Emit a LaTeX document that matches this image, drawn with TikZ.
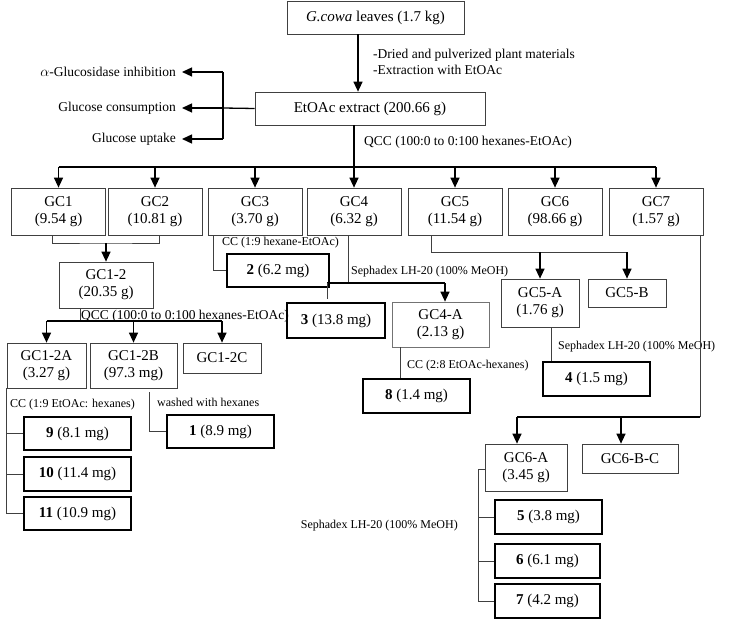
\documentclass[tikz,border=0pt]{standalone}
\usepackage{fontspec}
\setmainfont{Liberation Serif}
\usetikzlibrary{arrows.meta}

\tikzset{
	box/.style={draw=black!75,line width=0.7pt,inner sep=0pt,align=center,font=\fontsize{15}{17}\selectfont},
	cpd/.style={box,draw=black,line width=1.8pt},
	arr/.style={line width=1.3pt,-{Triangle[length=10pt,width=9pt]}},
	link/.style={draw=black!75,line width=0.8pt},
	lbl/.style={inner sep=0pt,font=\fontsize{12}{14}\selectfont},
	lbig/.style={inner sep=0pt,font=\fontsize{13.5}{16}\selectfont},
}

\begin{document}
\begin{tikzpicture}[x=1pt,y=-1pt]
	\useasboundingbox (0,0) rectangle (738,620);
	
	\node[box,minimum width=177pt,minimum height=33pt] (gcowa) at (375.5,17.5) {\textit{G.cowa} leaves (1.7 kg)};
	\node[box,minimum width=230pt,minimum height=33pt] (extract) at (370,108.5) {EtOAc extract (200.66 g)};
	\draw[arr] ([xshift=-17.5pt]gcowa.south) -- ([xshift=-12pt]extract.north);
	\node[lbig,anchor=west,align=left] (dried) at (373,61.5) {-Dried and pulverized plant materials\\-Extraction with EtOAc};
	
	\node[lbig,anchor=east,inner xsep=6pt] (alpha) at (182,72) {$\alpha$-Glucosidase inhibition};
	\node[lbig,anchor=east,inner xsep=6pt] (cons) at (182,108) {Glucose consumption};
	\node[lbig,anchor=east,inner xsep=6pt] (uptake) at (182,139) {Glucose uptake};
	\coordinate (bio) at (223,108);
	\coordinate (biot) at (223,72);
	\coordinate (biob) at (223,139);
	\draw[line width=1.3pt] (extract.west) -- (bio);
	\draw[line width=1.3pt] (biot) -- (biob);
	\draw[arr] (biot) -- (alpha.east);
	\draw[arr] (bio) -- (cons.east);
	\draw[arr] (biob) -- (uptake.east);
	
	\node[lbig,anchor=west] (qcc) at (364,142) {QCC (100:0 to 0:100 hexanes-EtOAc)};
	\node[box,minimum width=94pt,minimum height=47pt] (gc1) at (58.5,211.5) {GC1\\(9.54 g)};
	\node[box,minimum width=94pt,minimum height=47pt] (gc2) at (155,211.5) {GC2\\(10.81 g)};
	\node[box,minimum width=94pt,minimum height=47pt] (gc3) at (255,211.5) {GC3\\(3.70 g)};
	\node[box,minimum width=94pt,minimum height=47pt] (gc4) at (354,211.5) {GC4\\(6.32 g)};
	\node[box,minimum width=94pt,minimum height=47pt] (gc5) at (455,211.5) {GC5\\(11.54 g)};
	\node[box,minimum width=94pt,minimum height=47pt] (gc6) at (555,211.5) {GC6\\(98.66 g)};
	\node[box,minimum width=94pt,minimum height=47pt] (gc7) at (656,211.5) {GC7\\(1.57 g)};
	\coordinate (bus) at (354,167);
	\draw[line width=1.3pt] (extract.south -| bus) -- (bus);
	\draw[line width=1.3pt] (gc1 |- bus) -- (gc7 |- bus);
	\foreach \n in {gc1,gc2,gc3,gc4,gc5,gc6,gc7}
		\draw[arr] (\n |- bus) -- (\n.north);
	
	\node[box,minimum width=94pt,minimum height=46pt] (gc12) at (106,285) {GC1-2\\(20.35 g)};
	\coordinate (j12) at (106,243);
	\draw[link] ([xshift=-6pt]gc1.south) |- (j12) -| ([xshift=4pt]gc2.south);
	\draw[arr] (j12) -- (gc12.north);
	
	\node[box,minimum width=79pt,minimum height=45pt] (gc12a) at (46.5,365.5) {GC1-2A\\(3.27 g)};
	\node[box,minimum width=87pt,minimum height=45pt] (gc12b) at (133.5,365.5) {GC1-2B\\(97.3 mg)};
	\node[box,minimum width=78pt,minimum height=30pt] (gc12c) at (222,358) {GC1-2C};
	\coordinate (bus2) at (80,321);
	\draw[link] (gc12.south -| bus2) -- (bus2);
	\draw[line width=1.3pt] (gc12a |- bus2) -- (gc12c |- bus2);
	\foreach \n in {gc12a,gc12b,gc12c}
		\draw[arr] (\n |- bus2) -- (\n.north);
	\node[lbig,anchor=base west] (qcc2) at (81,319.5) {QCC (100:0 to 0:100 hexanes-EtOAc)};
	
	\node[cpd,minimum width=102pt,minimum height=33pt] (c2) at (278,270.5) {\textbf{2} (6.2 mg)};
	\draw[link] ([xshift=-42pt]gc3.south) |- (c2.west);
	\node[lbl,anchor=west] (cc3) at (222,243) {CC (1:9 hexane-EtOAc)};
	
	\node[cpd,minimum width=98pt,minimum height=35pt] (c3) at (336,320.5) {\textbf{3} (13.8 mg)};
	\node[box,draw=black!55,minimum width=97pt,minimum height=45pt] (gc4a) at (440.5,324.5) {GC4-A\\(2.13 g)};
	\coordinate (j4) at (348,283);
	\coordinate (l3) at (327,283);
	\coordinate (r4) at (445,283);
	\draw[link] (gc4.south -| j4) -- (j4);
	\draw[line width=1.3pt] (l3) -- (r4);
	\draw[link] (l3) -- ([yshift=3pt]l3 |- c3.north);
	\draw[arr] (r4) -- (r4 |- gc4a.north);
	\node[lbl,anchor=west] (seph4) at (351,272) {Sephadex LH-20 (100\% MeOH)};
	
	\node[cpd,minimum width=107pt,minimum height=34pt] (c8) at (416.5,396) {\textbf{8} (1.4 mg)};
	\draw[link] ([xshift=-40.5pt]gc4a.south) -- ([xshift=-40.5pt]gc4a.south |- c8.north);
	\node[lbl,anchor=west] (cc4a) at (407,366) {CC (2:8 EtOAc-hexanes)};
	
	\node[box,minimum width=78pt,minimum height=48pt] (gc5a) at (540,303) {GC5-A\\(1.76 g)};
	\node[box,minimum width=78pt,minimum height=28pt] (gc5b) at (627,293) {GC5-B};
	\coordinate (j5) at (431,252);
	\draw[link] (gc5.south -| j5) -- (j5) -- (gc5b |- j5);
	\draw[arr] (gc5a |- j5) -- (gc5a.north);
	\draw[arr] (gc5b |- j5) -- (gc5b.north);
	
	\node[cpd,minimum width=107pt,minimum height=34pt] (c4) at (596.5,379) {\textbf{4} (1.5 mg)};
	\draw[link] ([xshift=11pt]gc5a.south) -- ([xshift=11pt]gc5a.south |- c4.north);
	\node[lbl,anchor=west] (seph5) at (558,347) {Sephadex LH-20 (100\% MeOH)};
	
	\node[box,minimum width=82pt,minimum height=47pt] (gc6a) at (526,467.5) {GC6-A\\(3.45 g)};
	\node[box,minimum width=96pt,minimum height=29pt] (gc6bc) at (630,458.5) {GC6-B-C};
	\coordinate (j7) at (700,417);
	\draw[link] (gc7.south -| j7) -- (j7);
	\draw[line width=1.3pt] (j7) -- ([xshift=-9pt]gc6a |- j7);
	\draw[arr] ([xshift=-9pt]gc6a |- j7) -- ([xshift=-9pt]gc6a.north);
	\draw[arr] ([xshift=-9pt]gc6bc |- j7) -- ([xshift=-9pt]gc6bc.north);
	
	\node[cpd,minimum width=107pt,minimum height=34pt] (c5) at (548.5,517) {\textbf{5} (3.8 mg)};
	\node[cpd,minimum width=105pt,minimum height=34pt] (c6) at (547.5,561) {\textbf{6} (6.1 mg)};
	\node[cpd,minimum width=105pt,minimum height=34pt] (c7) at (547.5,601) {\textbf{7} (4.2 mg)};
	\coordinate (v6) at (478,469);
	\draw[link] ([yshift=-1.5pt]gc6a.west) -- (v6) |- (c7.west);
	\draw[link] (v6 |- c5.west) -- (c5.west);
	\draw[link] (v6 |- c6.west) -- (c6.west);
	\node[lbl,anchor=east] (seph6) at (458,526) {Sephadex LH-20 (100\% MeOH)};
	
	\node[cpd,minimum width=107pt,minimum height=33pt] (c9) at (77.5,433.5) {\textbf{9} (8.1 mg)};
	\node[cpd,minimum width=107pt,minimum height=34pt] (c10) at (77.5,474) {\textbf{10} (11.4 mg)};
	\node[cpd,minimum width=107pt,minimum height=33pt] (c11) at (77.5,513.5) {\textbf{11} (10.9 mg)};
	\draw[link] (gc12a.south west) |- (c11.west);
	\draw[link] (gc12a.south west |- c9.west) -- (c9.west);
	\draw[link] (gc12a.south west |- c10.west) -- (c10.west);
	\node[lbl,anchor=west] (cc12a) at (10,405) {CC (1:9 EtOAc: hexanes)};
	
	\node[cpd,minimum width=107pt,minimum height=33pt] (c1) at (220.5,431.5) {\textbf{1} (8.9 mg)};
	\draw[link] ([xshift=15.5pt,yshift=-4pt]gc12b.south) |- (c1.west);
	\node[lbl,anchor=west] (wash) at (157,402) {washed with hexanes};
	
\end{tikzpicture}
\end{document}
